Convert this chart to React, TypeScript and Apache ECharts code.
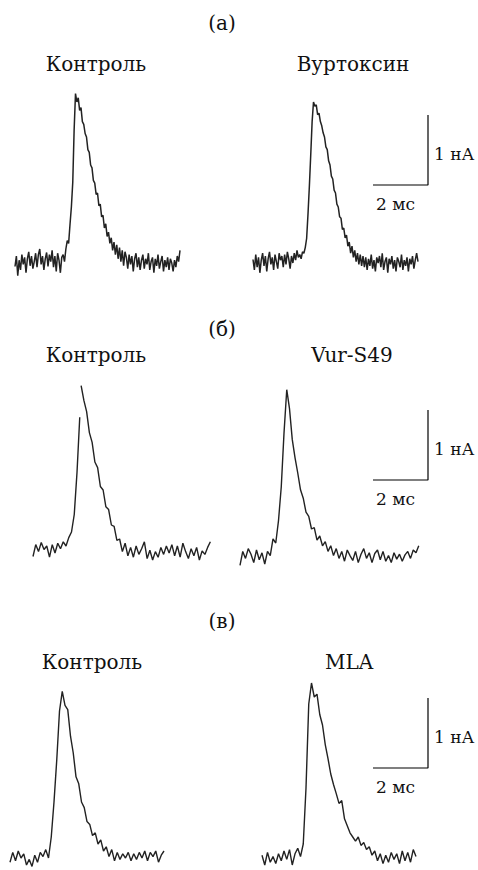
import React, { useEffect, useRef } from "react";
import * as echarts from "echarts";

// sampling steps, ms
const STEP_A = 0.05;
const STEP = 0.1;
// px per ms and px per nA (same scale for all panels)
const PX_PER_MS = 27.5;
const PX_PER_NA = 70;

// Panel (а): current, nA, sampled every STEP_A ms from t = 0
const ctrlA = [
  -0.05, 0.1, -0.18, 0.04, -0.1, 0.12, -0.02, 0.08, -0.14, 0.06, 0.16, -0.04, 0.1, -0.08, 0.02, 0.14, -0.06, 0.12, 0.2,
  -0.02, 0.1, -0.1, 0.06, 0.15, -0.05, 0.12, 0.02, 0.18, -0.06, 0.1, -0.12, 0.14, 0.04, -0.14, 0.08, 0.12, 0.02,
  0.2, 0.32, 0.28, 0.55, 0.8, 1.15, 1.9, 2.42, 2.3, 2.36, 2.18, 2.22, 2.02, 1.98, 1.85, 1.8, 1.62, 1.58, 1.4, 1.36, 1.18,
  1.14, 0.98, 1.0, 0.82, 0.84, 0.66, 0.68, 0.5, 0.56, 0.38, 0.44, 0.28, 0.36, 0.18, 0.3, 0.12, 0.26, 0.06, 0.22, 0.02,
  0.18, -0.04, 0.16,
  0.08, -0.08, 0.12, -0.02, 0.1, -0.12, 0.06, 0.14, -0.06, 0.08, -0.1, 0.04, 0.12, -0.08, 0.06, -0.02, 0.14, -0.1, 0.02,
  0.08, -0.14, 0.06, -0.04, 0.12, -0.08, 0.02, 0.1, -0.12, 0.04, -0.06, 0.08, -0.1, 0.06, 0.0, -0.12, 0.04, -0.06, 0.1,
  0.02, 0.18,
];
const vurtoxinA = [
  0.05, -0.1, 0.12, -0.06, 0.08, -0.14, 0.04, 0.14, -0.04, 0.1, -0.12, 0.06, 0.16, -0.02, 0.08, -0.1, 0.12, 0.02, -0.08,
  0.14, 0.04, 0.1, -0.06, 0.12, -0.02, 0.16, 0.06, -0.08, 0.1, 0.0, 0.14, 0.04, 0.18, 0.08, 0.12, 0.06, 0.16, 0.14,
  0.22, 0.35, 0.7, 1.1, 1.55, 2.02, 2.3, 2.24, 2.26, 2.12, 2.14, 2.02, 1.96, 1.86, 1.8, 1.66, 1.62, 1.46, 1.4, 1.24, 1.2,
  1.04, 1.0, 0.84, 0.8, 0.66, 0.64, 0.48, 0.5, 0.36, 0.4, 0.24, 0.3, 0.14, 0.24, 0.08, 0.18, 0.02, 0.14, -0.02, 0.12,
  -0.04, 0.1, -0.06, 0.08,
  -0.1, 0.06, -0.04, 0.12, -0.08, 0.04, -0.12, 0.08, 0.0, 0.1, -0.06, 0.14, -0.1, 0.02, 0.08, -0.14, 0.06, -0.02, 0.1,
  -0.08, 0.04, -0.12, 0.08, 0.02, -0.06, 0.12, -0.1, 0.04, -0.04, 0.08, -0.12, 0.06, -0.02, 0.1, -0.08, 0.04, 0.14, 0.02,
];

// Panel (б): control trace is broken at the peak (rise part and decay part), STEP ms
const ctrlBRise = [
  -0.05, 0.12, 0.02, 0.15, 0.05, 0.1, -0.06, 0.12, 0.0, 0.14, 0.06, 0.16, 0.1, 0.22, 0.3, 0.55, 1.15, 1.94,
];
const ctrlBDecayStart = 1.75; // ms
const ctrlBDecay = [
  2.39, 2.18, 2.02, 1.72, 1.58, 1.3, 1.22, 0.95, 0.9, 0.66, 0.62, 0.4, 0.38, 0.18, 0.2, 0.02, 0.14, -0.04, 0.08, -0.06,
  0.1, -0.02, 0.06, 0.16, -0.08, 0.04, -0.1, 0.02, -0.06, 0.08, -0.02, 0.1, 0.0, 0.12, -0.04, 0.1, -0.06, 0.14, 0.02,
  -0.08, 0.06, -0.04, 0.08, -0.1, 0.03, -0.02, 0.08, 0.16,
];
const vurS49B = [
  -0.12, 0.08, -0.02, 0.12, 0.04, -0.08, 0.1, -0.04, 0.06, -0.1, 0.08, 0.02, 0.26, 0.2, 0.52, 1.0, 1.77, 2.39, 2.12, 1.68,
  1.42, 1.2, 0.96, 0.84, 0.64, 0.58, 0.4, 0.42, 0.24, 0.3, 0.16, 0.22, 0.08, 0.16, 0.02, 0.12, -0.02, 0.08, -0.06, 0.1,
  0.02, -0.05, 0.08, -0.08, 0.04, 0.12, -0.02, 0.06, -0.08, 0.05, 0.1, -0.04, 0.08, -0.06, 0.02, -0.08, 0.06, -0.03, 0.04,
  -0.06, 0.03, 0.08, -0.02, 0.1, 0.06, 0.16,
];

// Panel (в), STEP ms
const ctrlC = [
  -0.06, 0.08, -0.04, 0.1, 0.0, 0.06, -0.1, -0.02, -0.12, 0.04, -0.06, 0.08, 0.02, 0.12, 0.0, 0.3, 0.8, 1.4, 2.1, 2.38,
  2.18, 2.12, 1.74, 1.5, 1.16, 1.06, 0.8, 0.72, 0.52, 0.48, 0.32, 0.36, 0.2, 0.26, 0.1, 0.16, 0.02, 0.12, -0.04, 0.08,
  -0.02, 0.06, 0.0, 0.08, -0.04, 0.06, -0.02, 0.08, 0.0, 0.1, -0.04, 0.08, 0.02, 0.1, -0.06, 0.04, 0.1,
];
const mlaC = [
  0.04, -0.1, 0.08, -0.06, 0.02, -0.08, 0.06, -0.04, 0.1, -0.02, 0.12, -0.1, 0.06, 0.14, 0.02, 0.2, 1.0, 2.2, 2.5, 2.3,
  2.34, 2.05, 1.9, 1.62, 1.42, 1.2, 1.05, 0.92, 0.78, 0.82, 0.56, 0.46, 0.36, 0.3, 0.24, 0.3, 0.18, 0.22, 0.12, 0.16, 0.04,
  0.1, -0.04, 0.06, -0.08, 0.04, -0.06, 0.08, -0.02, 0.06, -0.08, 0.1, -0.04, 0.08, -0.06, 0.12, 0.02,
];

// scale bar: 2 ms, 1 nA
const SCALE_MS = 2;
const SCALE_NA = 1;
const scaleBarX = [0, SCALE_MS, SCALE_MS];
const scaleBarY = [0, 0, SCALE_NA];

const panelLabels = ["(а)", "(б)", "(в)"];
const leftTitles = ["Контроль", "Контроль", "Контроль"];
const rightTitles = ["Вуртоксин", "Vur-S49", "MLA"];
const scaleLabels = ["1 нА", "2 мс"];

const Y_MIN = -0.15;
const Y_MAX = 3.0;

const toPairs = (vals: number[], t0: number, step: number) =>
  vals.map((v, i) => [+(t0 + i * step).toFixed(3), v]);

export default function App() {
  const ref = useRef<HTMLDivElement>(null);
  useEffect(() => {
    if (!ref.current) return;
    const chart = echarts.init(ref.current, null, { renderer: "svg" });

    // trace panels: left px, baseline px, duration ms
    const panels = [
      { left: 15, base: 263, dur: 6.0 },
      { left: 253, base: 263, dur: 6.0 },
      { left: 33, base: 553, dur: 6.5 },
      { left: 240, base: 557, dur: 6.5 },
      { left: 10, base: 858, dur: 5.6 },
      { left: 262, base: 858, dur: 5.6 },
    ];
    const scaleBottoms = [185, 480, 768];

    const grids: any[] = [];
    const xAxes: any[] = [];
    const yAxes: any[] = [];
    panels.forEach((p, i) => {
      grids.push({
        left: p.left,
        top: p.base - Y_MAX * PX_PER_NA,
        width: p.dur * PX_PER_MS,
        height: (Y_MAX - Y_MIN) * PX_PER_NA,
      });
      xAxes.push({ type: "value", gridIndex: i, min: 0, max: p.dur, show: false });
      yAxes.push({ type: "value", gridIndex: i, min: Y_MIN, max: Y_MAX, show: false });
    });
    scaleBottoms.forEach((b, k) => {
      const gi = panels.length + k;
      grids.push({ left: 373, top: b - SCALE_NA * PX_PER_NA, width: SCALE_MS * PX_PER_MS, height: SCALE_NA * PX_PER_NA });
      xAxes.push({ type: "value", gridIndex: gi, min: 0, max: SCALE_MS, show: false });
      yAxes.push({ type: "value", gridIndex: gi, min: 0, max: SCALE_NA, show: false });
    });

    const mk = (idx: number, data: number[][], name: string, width: number) => ({
      type: "line",
      name,
      xAxisIndex: idx,
      yAxisIndex: idx,
      data,
      showSymbol: false,
      symbol: "none",
      clip: false,
      silent: true,
      lineStyle: { color: "#222", width },
    });

    const series: any[] = [
      mk(0, toPairs(ctrlA, 0, STEP_A), "Контроль (а)", 1.5),
      mk(1, toPairs(vurtoxinA, 0, STEP_A), "Вуртоксин", 1.5),
      mk(2, toPairs(ctrlBRise, 0, STEP), "Контроль (б) rise", 1.4),
      mk(2, toPairs(ctrlBDecay, ctrlBDecayStart, STEP), "Контроль (б) decay", 1.4),
      mk(3, toPairs(vurS49B, 0, STEP), "Vur-S49", 1.4),
      mk(4, toPairs(ctrlC, 0, STEP), "Контроль (в)", 1.4),
      mk(5, toPairs(mlaC, 0, STEP), "MLA", 1.4),
    ];
    scaleBottoms.forEach((_, k) => {
      const gi = panels.length + k;
      series.push({
        type: "line",
        xAxisIndex: gi,
        yAxisIndex: gi,
        data: scaleBarX.map((x, j) => [x, scaleBarY[j]]),
        showSymbol: false,
        symbol: "none",
        clip: false,
        silent: true,
        lineStyle: { color: "#000", width: 1.2 },
      });
    });

    const labelY = [23, 329, 621];
    const titleY = [64, 355, 662];
    const leftTitleX = [96, 96, 92];
    const rightTitleX = [353, 352, 349];
    const titleFont = "20px DejaVu Serif";
    const scaleFont = "17px DejaVu Serif";
    const txt = (text: string, x: number, y: number, font: string, align: string) => ({
      type: "text",
      x,
      y,
      silent: true,
      style: { text, font, fill: "#111", align, verticalAlign: "middle" },
    });

    const graphic: any[] = [];
    for (let r = 0; r < 3; r++) {
      graphic.push(txt(panelLabels[r], 222, labelY[r], titleFont, "center"));
      graphic.push(txt(leftTitles[r], leftTitleX[r], titleY[r], titleFont, "center"));
      graphic.push(txt(rightTitles[r], rightTitleX[r], titleY[r], titleFont, "center"));
      const b = scaleBottoms[r];
      graphic.push(txt(scaleLabels[0], 434, b - 31.5, scaleFont, "left"));
      graphic.push(txt(scaleLabels[1], 376, b + 18.5, scaleFont, "left"));
    }

    chart.setOption({
      animation: false,
      backgroundColor: "#fff",
      grid: grids,
      xAxis: xAxes,
      yAxis: yAxes,
      series,
      graphic,
    });
    return () => chart.dispose();
  }, []);

  return <div ref={ref} style={{ position: "absolute", left: 0, top: 0, width: 478, height: 870 }} />;
}
